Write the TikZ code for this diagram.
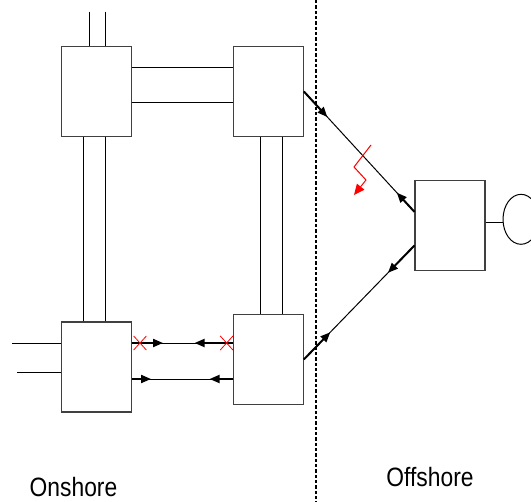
\documentclass[tikz,border=0pt]{standalone}
\usepackage{fontspec}
\setmainfont{Liberation Sans}
\usetikzlibrary{positioning,calc,arrows.meta,shapes.misc,shapes.geometric}

\begin{document}
\begin{tikzpicture}[x=0.75pt,y=-0.75pt,line width=0.75pt,
  bus/.style={draw=black!75,line width=0.9pt,minimum width=52.5pt,minimum height=67.5pt,inner sep=0pt},
  feed/.style={line width=1.5pt,-{Triangle[length=7.5pt,width=6pt]}},
  trip/.style={cross out,draw=red,line width=0.6pt,minimum width=9pt,minimum height=10pt,inner sep=0pt},
  lbl/.style={font=\fontsize{19.9}{24}\selectfont,inner sep=0pt}]
\useasboundingbox (0,0) rectangle (531,502);
% stations
\node[bus] (tl) at (96.3,91.8) {};
\node[bus] (tr) at (268.3,91.5) {};
\node[bus] (bl) at (96.4,367) {};
\node[bus] (br) at (268.2,359.5) {};
\node[bus] (off) at (450,225.5) {};
\node[draw,ellipse,minimum width=27pt,minimum height=37.5pt,inner sep=0pt] (gen) at (521,219.3) {};
\draw (off.east |- 0,222.7) -- (gen.west |- 0,222.7);
% double circuits
\draw (tl.east |- 0,68) -- (tr.west |- 0,68);
\draw (tl.east |- 0,103) -- (tr.west |- 0,103);
\draw (tl.south -| 83.3,0) -- (bl.north -| 83.3,0);
\draw (tl.south -| 105.3,0) -- (bl.north -| 105.3,0);
\draw (tr.south -| 260.7,0) -- (br.north -| 260.7,0);
\draw (tr.south -| 282.7,0) -- (br.north -| 282.7,0);
% incoming lines
\coordinate (in1) at (89.3,11.7);
\coordinate (in2) at (105.3,11.7);
\coordinate (in3) at (12,343);
\coordinate (in4) at (17,372);
\draw (in1) -- (in1 |- tl.north);
\draw (in2) -- (in2 |- tl.north);
\draw (in3) -- (in3 -| bl.west);
\draw (in4) -- (in4 -| bl.west);
% link bl -- br
\path (bl.east |- 0,343) coordinate (bl1) (br.west |- 0,343) coordinate (br1);
\path (bl.east |- 0,379) coordinate (bl2) (br.west |- 0,379) coordinate (br2);
\draw (bl1) -- (br1);
\draw[feed] (bl1) -- ++(31,0);
\draw[feed] (br1) -- ++(-38,0);
\draw (bl2) -- (br2);
\draw[feed] (bl2) -- ++(19,0);
\draw[feed] (br2) -- ++(-23,0);
\node[trip] (x1) at ($(bl1)+(8,0)$) {};
\node[trip] (x2) at ($(br1)+(-6,0)$) {};
% offshore links
\coordinate (p1) at ($(off.north west)!0.35!(off.south west)$);
\coordinate (p2) at ($(off.north west)!0.72!(off.south west)$);
\draw (tr.east) -- (p1);
\draw[feed] (tr.east) -- ($(tr.east)!26pt!(p1)$);
\draw[feed] (p1) -- ($(p1)!19.5pt!(tr.east)$);
\draw (br.east) -- (p2);
\draw[feed] (br.east) -- ($(br.east)!28.5pt!(p2)$);
\draw[feed] (p2) -- ($(p2)!28.5pt!(br.east)$);
% fault
\draw[red,-{Triangle[length=8pt,width=7pt]}] (371,145) -- (354,167) -- (366,180) -- (354,195);
% shore line
\draw[line width=0.9pt,dash pattern=on 2.5pt off 1.5pt] (316,0) -- (316,502);
\node[lbl] (onl) at (73.5,487) {\scalebox{0.86}[1]{Onshore}};
\node[lbl] (offl) at (430,477) {\scalebox{0.86}[1]{Offshore}};
\end{tikzpicture}
\end{document}
